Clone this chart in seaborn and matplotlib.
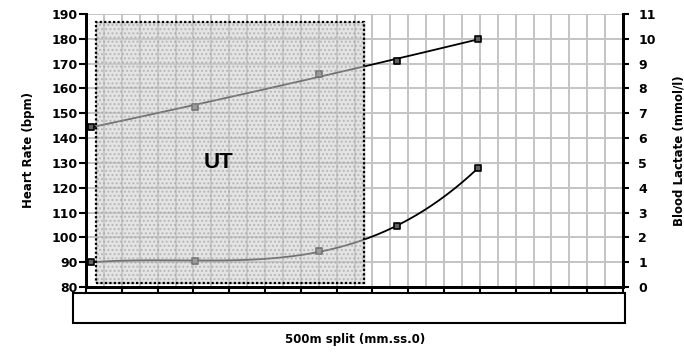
import numpy as np
import pandas as pd
import matplotlib
matplotlib.use("Agg")
import matplotlib.pyplot as plt
from matplotlib.patches import Rectangle
import seaborn as sns

# ---- data ----
split_sec = [129.7, 123.9, 117.0, 112.6, 108.1]      # 500m split (s)
heart_rate = [144.6, 152.6, 166.0, 171.0, 180.0]     # bpm
lactate = [1.0, 1.05, 1.45, 2.45, 4.8]               # mmol/l
ut_zone_split = [129.45, 114.45]                     # UT zone split range (s)
ut_zone_hr = [81.5, 186.8]                           # UT zone HR range (bpm)

sns.set_theme(style="white")
plt.rcParams['font.family'] = ['DejaVu Sans']
plt.rcParams['font.weight'] = 'bold'
plt.rcParams['text.color'] = 'black'
plt.rcParams['axes.labelcolor'] = 'black'
plt.rcParams['xtick.color'] = 'black'
plt.rcParams['ytick.color'] = 'black'

fig = plt.figure(figsize=(6.84, 3.52), dpi=100)
L, B, R, T = 86/684, (352-287)/352, 623/684, (352-14)/352
ax = fig.add_axes([L, B, R-L, T-B])
ax2 = ax.twinx()

# grid
ax.set_xlim(130, 100)
ax.set_ylim(80, 190)
ax2.set_ylim(0, 11)
ax.set_xticks(np.arange(100, 131, 1), minor=True)
ax.set_xticks(np.arange(100, 131, 2))
ax.set_yticks(np.arange(80, 191, 10))
ax2.set_yticks(np.arange(0, 12, 1))
ax.grid(False)
ax2.grid(False)
ax.grid(True, which='both', axis='x', color='#c4c4c4', lw=1.4, zorder=0)
ax.grid(True, which='major', axis='y', color='#c4c4c4', lw=1.4, zorder=0)
ax.set_axisbelow(True)

# trend curves
xs = np.linspace(min(split_sec), max(split_sec), 200)
hr_fit = np.polyval(np.polyfit(split_sec, heart_rate, 2), xs)
la_fit = np.polyval(np.polyfit(split_sec, lactate, 3), xs)
sns.lineplot(x=xs, y=hr_fit, ax=ax, color='black', lw=1.3, zorder=3)
sns.lineplot(x=xs, y=la_fit, ax=ax2, color='black', lw=1.3, zorder=3)
sns.scatterplot(x=split_sec, y=heart_rate, ax=ax, marker='s', s=22,
                color='#606060', edgecolor='black', linewidth=1.2, zorder=4)
sns.scatterplot(x=split_sec, y=lactate, ax=ax2, marker='s', s=22,
                color='#606060', edgecolor='black', linewidth=1.2, zorder=4)

# UT zone
rect = Rectangle((ut_zone_split[0], ut_zone_hr[0]),
                 ut_zone_split[1]-ut_zone_split[0], ut_zone_hr[1]-ut_zone_hr[0],
                 transform=ax.transData, facecolor='#cfcfcf', alpha=0.55,
                 edgecolor='none', hatch='....', zorder=10)
rect.set_edgecolor((0.6, 0.6, 0.6, 0.5))
ax2.add_patch(rect)
border = Rectangle((ut_zone_split[0], ut_zone_hr[0]),
                   ut_zone_split[1]-ut_zone_split[0], ut_zone_hr[1]-ut_zone_hr[0],
                   transform=ax.transData, facecolor='none', edgecolor='black',
                   lw=1.6, ls=(0, (1, 1)), zorder=11)
ax2.add_patch(border)
ax2.text(122.6, 130.3, 'UT', transform=ax.transData, fontsize=16,
         family=['Liberation Sans', 'DejaVu Sans'], color='black',
         fontweight='heavy', ha='center', va='center', zorder=12)

# spines & ticks
for a in (ax, ax2):
    a.spines['top'].set_visible(False)
    for s in ('left', 'right', 'bottom'):
        a.spines[s].set_color('black')
        a.spines[s].set_linewidth(2)
ax.tick_params(axis='y', which='major', direction='out', length=5, width=1.5,
               color='black', labelcolor='black', labelsize=9, pad=1, left=True)
ax2.tick_params(axis='y', which='major', direction='out', length=4, width=1.5,
                color='black', labelcolor='black', labelsize=9, pad=7, right=True)
ax.tick_params(axis='x', which='major', direction='out', length=4, width=1.5,
               color='black', labelbottom=False, bottom=True)
ax.tick_params(axis='x', which='minor', length=0, labelbottom=False)
for lab in ax.get_yticklabels() + ax2.get_yticklabels():
    lab.set_fontweight('bold')

ax.set_ylabel('Heart Rate (bpm)', fontsize=8.5, fontweight='bold', labelpad=12,
              color='black')
ax2.set_ylabel('Blood Lactate (mmol/l)', fontsize=8.5, fontweight='bold',
               labelpad=12, color='black')
ax.set_xlabel('')

# empty label box under the axis
fig.add_artist(Rectangle((73/684, (352-323)/352), (625-73)/684, 30/352,
                         transform=fig.transFigure, facecolor='white',
                         edgecolor='black', lw=1.5))
fig.text(355/684, (352-340)/352, '500m split (mm.ss.0)', fontsize=8.5,
         fontweight='bold', ha='center', va='center', color='black')

fig.savefig('out.png', dpi=100)
